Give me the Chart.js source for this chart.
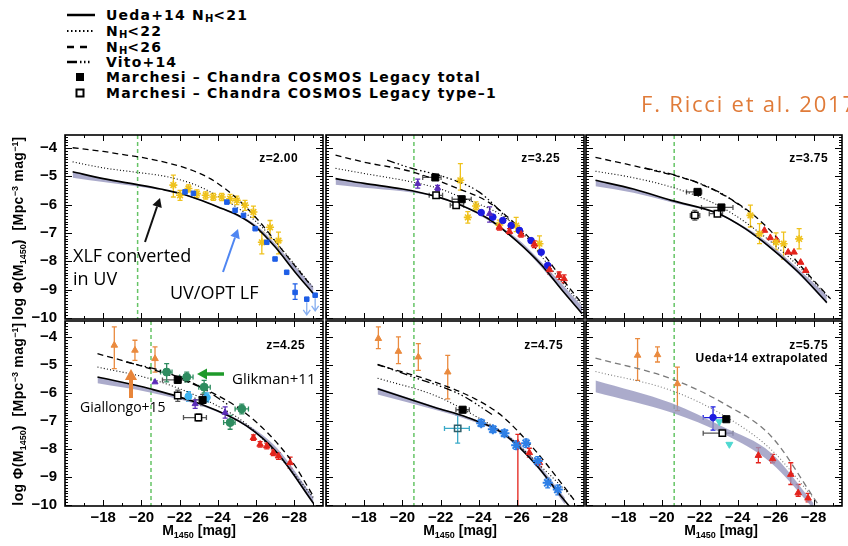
<!DOCTYPE html>
<html>
<head>
<meta charset="utf-8">
<script src="https://cdn.jsdelivr.net/npm/chart.js@4.4.1/dist/chart.umd.min.js"></script>
<style>
  html, body { margin: 0; padding: 0; background: #fff; }
  #wrap { position: relative; width: 848px; height: 546px; overflow: hidden; font-family: "Liberation Sans", Arial, sans-serif; }
  #wrap canvas { position: absolute; left: 0; top: 0; z-index: 1; }
  #wrap svg, #wrap .txt { z-index: 2; }
  .lg { position: absolute; left: 106px; font: bold 14px "DejaVu Sans", sans-serif; letter-spacing: 1.2px; white-space: nowrap; transform: translateY(-50%); }
  .lg sub { font-size: 10px; vertical-align: -2px; letter-spacing: 0; }
  .txt { position: absolute; white-space: nowrap; }
  .zl { font: bold 12px "Liberation Sans", Arial, sans-serif; letter-spacing: 0.4px; transform: translateY(-50%); }
  .ann { font-family: "Open Sans", sans-serif; transform: translateY(-50%); }
  .ytitle { left: 19px; font: bold 14px "Liberation Sans", Arial, sans-serif; letter-spacing: 0.4px; transform: translate(-50%, -50%) rotate(-90deg); }
  .xtitle { top: 531px; font: bold 14px "Liberation Sans", Arial, sans-serif; transform: translate(-50%, -50%); }
  .ytitle sub, .xtitle sub { font-size: 9px; vertical-align: -3px; letter-spacing: 0; }
  .ytitle sup { font-size: 9px; vertical-align: 5px; letter-spacing: 0; }
</style>
</head>
<body>
<div id="wrap">
  <svg id="lgmarks" width="110" height="105" style="position:absolute;left:0;top:0">
    <line x1="67" y1="15" x2="95" y2="15" stroke="#000" stroke-width="2.5"/>
    <line x1="67" y1="31" x2="95" y2="31" stroke="#000" stroke-width="2" stroke-dasharray="1.5 2.5"/>
    <line x1="67" y1="47" x2="88" y2="47" stroke="#000" stroke-width="2.5" stroke-dasharray="7 6"/>
    <line x1="67" y1="62" x2="95" y2="62" stroke="#000" stroke-width="2.5" stroke-dasharray="10 3 1.5 2.5 1.5 2.5 1.5 20"/>
    <rect x="76" y="73" width="8" height="8" fill="#000"/>
    <rect x="76.5" y="89.5" width="7" height="7" fill="none" stroke="#000" stroke-width="2"/>
  </svg>
  <div class="lg" style="top:15px">Ueda+14 N<sub>H</sub>&lt;21</div>
  <div class="lg" style="top:31px">N<sub>H</sub>&lt;22</div>
  <div class="lg" style="top:47px">N<sub>H</sub>&lt;26</div>
  <div class="lg" style="top:62px">Vito+14</div>
  <div class="lg" style="top:77px">Marchesi – Chandra COSMOS Legacy total</div>
  <div class="lg" style="top:93px">Marchesi – Chandra COSMOS Legacy type–1</div>
  <div class="txt ann" style="left:641px;top:103px;font-size:22px;letter-spacing:1.8px;color:#e07b39">F. Ricci et al. 2017</div>

  <div class="txt ytitle" style="top:228px">log Φ(M<sub>1450</sub>) &nbsp;[Mpc<sup>−3</sup> mag<sup>−1</sup>]</div>
  <div class="txt ytitle" style="top:414px">log Φ(M<sub>1450</sub>) &nbsp;[Mpc<sup>−3</sup> mag<sup>−1</sup>]</div>
  <div class="txt xtitle" style="left:199px">M<sub>1450</sub> [mag]</div>
  <div class="txt xtitle" style="left:460px">M<sub>1450</sub> [mag]</div>
  <div class="txt xtitle" style="left:721px">M<sub>1450</sub> [mag]</div>

  <div class="txt ann" style="left:73px;top:255px;font-size:18px">XLF converted</div>
  <div class="txt ann" style="left:73px;top:278px;font-size:18px">in UV</div>
  <div class="txt ann" style="left:170px;top:292px;font-size:18px">UV/OPT LF</div>
  <div class="txt ann" style="left:232px;top:378px;font-size:15px">Glikman+11</div>
  <div class="txt ann" style="left:80px;top:406px;font-size:14px">Giallongo+15</div>
  <svg id="arrows" width="848" height="546" style="position:absolute;left:0;top:0"></svg>
</div>
<script>
// axes
const X_RANGE = [-29.5, -16];
const Y_RANGE_TOP = [-10.04, -3.54];
const Y_RANGE_BOTTOM = [-10.05, -3.42];
const X_TICKS = [-18, -20, -22, -24, -26, -28];
const Y_TICKS = [-4, -5, -6, -7, -8, -9, -10];
const REDSHIFTS = ['z=2.00', 'z=3.25', 'z=3.75', 'z=4.25', 'z=4.75', 'z=5.75'];
const M_LIMIT = [-19.8, -20.6, -20.65, -20.5, -20.6, -20.65];

// z=2.00 model curves [M, log phi]
const P1_SOLID = [[-16.4,-4.84],[-18,-5.08],[-20,-5.32],[-21,-5.45],[-22,-5.6],[-23,-5.82],[-24,-6.08],[-25,-6.36],[-26,-6.8],[-27,-7.5],[-28,-8.35],[-29,-9.15]];
const P1_DOTTED = [[-16.4,-4.49],[-18,-4.7],[-20,-4.88],[-21,-4.97],[-22,-5.12],[-23,-5.35],[-24,-5.7],[-25,-6.1],[-26,-6.6],[-27,-7.3],[-28,-8.1],[-29,-8.95]];
const P1_DASHED = [[-16.4,-3.99],[-18,-4.12],[-19.2,-4.25],[-20,-4.33],[-21.5,-4.55],[-22.5,-4.75],[-23.6,-5.08],[-24.5,-5.5],[-25.2,-5.91],[-26.2,-6.62],[-27.6,-7.8],[-28.8,-8.8]];
const P1_BAND_M = [-16.4,-18,-20,-22,-24,-26,-27,-28,-29];
const P1_BAND_HI = [-4.84,-5.08,-5.32,-5.59,-6.05,-6.72,-7.38,-8.15,-8.9];
const P1_BAND_LO = [-5.05,-5.2,-5.38,-5.62,-6.1,-6.82,-7.52,-8.37,-9.17];

// z=3.25
const P2_SOLID = [[-16.5,-5.08],[-18,-5.25],[-20,-5.45],[-21.7,-5.7],[-23,-6.0],[-24.5,-6.5],[-26,-7.3],[-27.3,-8.15],[-28.3,-8.98],[-29.4,-9.85]];
const P2_DOTTED = [[-16.5,-4.72],[-18,-4.9],[-20.5,-5.2],[-22,-5.45],[-23,-5.72],[-25.2,-6.38],[-26.3,-7.0],[-27.3,-7.85],[-28.3,-8.7],[-29.4,-9.55]];
const P2_DASHED = [[-16.5,-4.25],[-18,-4.5],[-20.5,-4.84],[-22.9,-5.43],[-24.5,-5.91],[-26,-6.74],[-27.3,-7.68],[-28.3,-8.57],[-29.4,-9.5]];
const P2_VITO = [[-19.2,-4.43],[-20.5,-4.72],[-22,-4.98],[-24,-5.55],[-25.7,-6.62]];
const P2_BAND_M = [-16.5,-18,-20,-22,-24,-26,-28,-29.4];
const P2_BAND_HI = [-5.08,-5.25,-5.45,-5.74,-6.33,-7.2,-8.55,-9.6];
const P2_BAND_LO = [-5.3,-5.4,-5.53,-5.78,-6.36,-7.32,-8.77,-9.86];

// z=3.75
const P3_SOLID = [[-16.5,-5.14],[-18.5,-5.45],[-20.5,-5.85],[-23,-6.32],[-24.4,-6.85],[-25.8,-7.56],[-27.2,-8.39],[-28.7,-9.46]];
const P3_DOTTED = [[-16.5,-4.82],[-18.5,-5.05],[-20.5,-5.38],[-22.8,-5.97],[-24.4,-6.62],[-26.8,-7.92],[-28.9,-9.34]];
const P3_DASHED = [[-16.5,-4.33],[-19.1,-4.72],[-22,-5.26],[-24.4,-6.14],[-25.8,-6.97],[-27.3,-8.15],[-28.9,-9.33]];
const P3_VITO = [[-19.1,-4.7],[-21,-5.02],[-23,-5.55],[-24.6,-6.25]];
const P3_BAND_M = [-16.5,-18.5,-20.5,-23,-25,-27,-28.7];
const P3_BAND_HI = [-5.14,-5.45,-5.85,-6.32,-7.05,-8.15,-9.2];
const P3_BAND_LO = [-5.35,-5.58,-5.92,-6.36,-7.17,-8.32,-9.5];

// z=4.25
const P4_SOLID = [[-17.7,-5.43],[-20.45,-5.85],[-23.07,-6.39],[-25.5,-7.18],[-27.1,-8.14],[-29,-9.95]];
const P4_DOTTED = [[-17.7,-5.07],[-20.45,-5.49],[-23.07,-6.16],[-25.5,-7.12],[-27.8,-8.74],[-29,-9.75]];
const P4_DASHED = [[-17.7,-4.59],[-20.45,-5.13],[-23.07,-5.79],[-25.5,-6.75],[-27.8,-8.38],[-29,-9.7]];
const P4_VITO = [[-19.2,-4.89],[-21,-5.2],[-23,-5.75],[-24.6,-6.45]];
const P4_BAND_M = [-17.7,-20.45,-23.07,-25.5,-27.1,-29];
const P4_BAND_HI = [-5.43,-5.85,-6.39,-7.12,-7.98,-9.75];
const P4_BAND_LO = [-5.65,-5.98,-6.45,-7.22,-8.2,-10.0];

// z=4.75
const P5_SOLID = [[-18.7,-5.85],[-21.7,-6.52],[-23.4,-6.88],[-25.2,-7.42],[-26.9,-8.5],[-28.3,-9.7],[-28.9,-10.2]];
const P5_DOTTED = [[-18.7,-5.47],[-21.7,-6.09],[-23.8,-6.82],[-25.5,-7.54],[-27.6,-8.86],[-28.9,-9.75]];
const P5_DASHED = [[-18.7,-4.99],[-21.7,-5.61],[-23.8,-6.21],[-25.2,-6.82],[-26.9,-8.02],[-28.3,-9.22],[-29,-9.85]];
const P5_VITO = [[-18.7,-4.97],[-20.45,-5.4],[-23.07,-6.07],[-24.8,-6.82]];
const P5_BAND_M = [-18.7,-21.7,-23.4,-25.2,-26.9,-28.5];
const P5_BAND_HI = [-5.8,-6.48,-6.85,-7.35,-8.38,-9.75];
const P5_BAND_LO = [-6.05,-6.6,-6.95,-7.48,-8.55,-10.0];

// z=5.75 (extrapolated)
const P6_DOTTED = [[-16.5,-5.23],[-20.5,-5.91],[-23.3,-6.82],[-25.75,-8.02],[-28,-9.77]];
const P6_DASHED = [[-16.5,-4.75],[-20.5,-5.49],[-23.3,-6.39],[-25.75,-7.54],[-28.2,-9.95]];
const P6_BAND_M = [-16.5,-20.5,-23.3,-25.75,-28];
const P6_BAND_HI = [-5.55,-6.36,-7.24,-8.14,-9.95];
const P6_BAND_LO = [-5.97,-6.7,-7.48,-8.5,-10.15];

// data points [M, log phi, low, high, xLow, xHigh]
const P1_YELLOW = [[-21.67,-5.31,-5.73,-4.96],[-22.02,-5.67,-5.85,-5.5],[-22.46,-5.43,-5.55,-5.3],[-22.9,-5.61,-5.74,-5.48],[-23.36,-5.67,-5.8,-5.55],[-23.76,-5.73,-5.85,-5.6],[-24.2,-5.73,-5.86,-5.6],[-24.64,-5.79,-5.95,-5.64],[-24.99,-5.85,-6.0,-5.7],[-25.42,-6.02,-6.2,-5.85],[-25.86,-6.26,-6.45,-6.05],[-26.3,-7.33,-7.74,-6.97],[-26.73,-6.8,-7.2,-6.56],[-27.17,-7.27,-7.74,-6.97]];
const P1_BLUE = [[-22.28,-5.55],[-22.72,-5.6],[-24.47,-5.91],[-24.9,-6.2],[-25.34,-6.38],[-25.95,-6.85],[-26.56,-7.33],[-26.99,-7.92],[-27.6,-8.39],[-28.04,-9.1,-9.35,-8.8]];
const P1_BLUE_UL = [[-28.65,-9.34],[-29.09,-9.2]];

const P2_TOTAL = [[-21.72,-5.04,-5.12,-4.96,-21.06,-22.02],[-23.1,-5.81,-5.9,-5.7,-22.6,-23.6]];
const P2_TYPE1 = [[-21.76,-5.67,-5.75,-5.58,-21.4,-22.1],[-22.81,-6.02,-6.1,-5.94,-22.5,-23.2]];
const P2_PURPLE = [[-20.8,-5.26,-5.42,-5.1],[-21.84,-5.41,-5.5,-5.32],[-24.56,-6.32,-6.62,-6.08]];
const P2_YELLOW = [[-23.03,-5.14,-5.49,-4.55],[-23.85,-6.05,-6.18,-5.9],[-23.42,-6.45,-6.65,-6.25],[-25.07,-6.72,-6.85,-6.55],[-25.95,-6.74,-6.95,-6.45],[-27.17,-7.38,-7.62,-7.1]];
const P2_BLUE = [[-24.12,-6.28],[-24.73,-6.44],[-25.25,-6.56],[-25.69,-6.74],[-26.12,-6.91],[-26.73,-7.27],[-27.26,-7.68],[-27.6,-8.15]];
const P2_RED = [[-25.07,-6.8,-6.9,-6.7],[-25.6,-6.95,-7.05,-6.85],[-26.21,-7.05,-7.15,-6.95],[-26.9,-7.4,-7.52,-7.28],[-27.7,-8.3,-8.45,-8.15],[-28.2,-8.5,-8.65,-8.38],[-28.46,-8.62,-8.76,-8.48]];

const P3_TOTAL = [[-21.88,-5.55,-5.62,-5.48,-21.3,-22.1],[-23.14,-6.1,-6.18,-6.02,-22.09,-23.75]];
const P3_TYPE1 = [[-21.74,-6.38,-6.55,-6.2,-21.5,-22.0],[-22.93,-6.32,-6.4,-6.24,-22.5,-23.2]];
const P3_YELLOW = [[-24.67,-6.38,-6.79,-6.02],[-25.15,-7.03,-7.38,-6.67],[-26.02,-7.33,-7.6,-7.0],[-26.42,-7.38,-7.92,-6.97],[-27.24,-7.21,-7.56,-6.85]];
const P3_RED = [[-25.41,-6.91],[-25.72,-7.17],[-26.05,-7.25],[-26.66,-7.68],[-26.97,-7.68],[-27.32,-8.04],[-27.59,-8.33]];

const P4_ORANGE = [[-18.58,-4.29,-5.13,-3.63],[-19.66,-4.47,-4.83,-4.11],[-20.71,-4.77,-5.25,-4.35]];
const P4_GREEN = [[-21.32,-5.25,-5.6,-4.95,-21.0,-21.6],[-22.37,-5.43,-5.6,-5.25,-22.0,-22.7],[-23.28,-5.79,-6.0,-5.55,-23.0,-23.6],[-25.25,-6.57,-6.75,-6.4,-24.9,-25.6],[-24.64,-7.06,-7.3,-6.8,-24.3,-24.9]];
const P4_PURPLE = [[-20.71,-5.61],[-22.81,-6.39,-6.55,-6.25],[-24.38,-6.7,-6.9,-6.5]];
const P4_SKY = [[-22.46,-6.12,-6.3,-5.95],[-23.42,-6.16,-6.32,-6.0]];
const P4_TOTAL = [[-21.9,-5.53,-5.65,-5.4,-21.1,-22.3],[-23.2,-6.25,-6.45,-6.05,-22.8,-23.5]];
const P4_TYPE1 = [[-21.9,-6.09,-6.3,-5.9],[-22.98,-6.88,-7.0,-6.75,-22.2,-23.4]];
const P4_RED = [[-25.86,-7.6,-7.7,-7.5],[-26.21,-7.84,-7.94,-7.74],[-26.56,-7.9,-8.0,-7.8],[-26.9,-8.14,-8.24,-8.04],[-27.17,-8.26,-8.38,-8.14],[-27.78,-8.5,-8.7,-8.3]];

const P5_ORANGE = [[-18.74,-4.05,-4.41,-3.63],[-19.79,-4.51,-4.95,-3.99],[-20.83,-4.71,-5.19,-4.23],[-22.37,-5.25,-6.21,-4.65]];
const P5_TOTAL = [[-23.15,-6.6,-6.7,-6.5,-22.8,-23.5]];
const P5_TYPE1 = [[-22.89,-7.27,-7.8,-6.78,-22.2,-23.5]];
const P5_STARS = [[-24.12,-7.08,-7.2,-6.95],[-24.73,-7.3,-7.42,-7.18],[-25.34,-7.44,-7.56,-7.32],[-25.95,-7.87,-8.02,-7.72],[-26.47,-7.8,-7.95,-7.65],[-27.08,-8.44,-8.6,-8.28],[-27.6,-9.22,-9.4,-9.05],[-28.13,-9.46,-9.65,-9.3]];
const P5_RED = [[-26.04,-7.8,-11,-7.48],[-26.64,-8.14,-8.3,-7.98],[-27.17,-8.5,-8.65,-8.35]];

const P6_ORANGE = [[-18.72,-4.65,-5.55,-4.05],[-19.77,-4.63,-4.89,-4.35],[-20.82,-5.67,-6.63,-5.07]];
const P6_BLUE = [[-22.7,-6.88,-7.33,-6.5,-22.18,-23.31]];
const P6_TOTAL = [[-23.4,-6.94,-7.02,-6.86]];
const P6_TYPE1 = [[-23.19,-7.44,-7.55,-7.3,-22.18,-23.75]];
const P6_CYAN = [[-23.03,-7.03],[-23.56,-7.84]];
const P6_RED = [[-25.09,-8.24,-8.5,-7.96],[-25.84,-8.36,-8.5,-8.2],[-26.8,-8.92,-9.28,-8.5],[-27.19,-9.58,-9.7,-9.28],[-27.71,-9.77,-9.9,-9.6]];

// ---- styles ----
const BAND_COLOR = 'rgba(150,150,190,0.8)';
const MARK = {
  yellow: { color: '#efc21c', style: 'star', r: 4, bw: 1.6 },
  blue:   { color: '#1e5ee6', style: 'rect', r: 3.2 },
  blueUL: { color: '#1e5ee6', style: 'rect', r: 3.2, arrow: '#86aef0' },
  navy:   { color: '#1c1ce0', style: 'circle', r: 3.3 },
  red:    { color: '#e3231c', style: 'triangle', r: 3.8 },
  purple: { color: '#5a2cb8', style: 'triangle', r: 3.5 },
  orange: { color: '#ea8a3e', style: 'triangle', r: 3.8 },
  green:  { color: '#2e8c60', style: 'circle', r: 4 },
  sky:    { color: '#3cb4f2', style: 'circle', r: 3.5 },
  cyan:   { color: '#4fd8d0', style: 'triangle', r: 4, rot: 180 },
  star:   { color: '#2d7fe6', style: 'star', r: 5, bw: 2 },
  total:  { color: '#000', style: 'rect', r: 5, err: '#555' },
  type1:  { color: '#000', style: 'rect', r: 4.5, fill: '#fff', err: '#555', bw: 1.5 },
  type1c: { color: '#2f5f6a', style: 'rect', r: 4.5, fill: 'rgba(255,255,255,0)', err: '#3aaac8', bw: 1.5 }
};

const PANELS = [
  { solid: P1_SOLID, dotted: P1_DOTTED, dashed: P1_DASHED, vito: null, band: [P1_BAND_M, P1_BAND_HI, P1_BAND_LO],
    marks: [[P1_BLUE, 'blue'], [P1_BLUE_UL, 'blueUL'], [P1_YELLOW, 'yellow']] },
  { solid: P2_SOLID, dotted: P2_DOTTED, dashed: P2_DASHED, vito: P2_VITO, band: [P2_BAND_M, P2_BAND_HI, P2_BAND_LO],
    marks: [[P2_TOTAL, 'total'], [P2_TYPE1, 'type1'], [P2_PURPLE, 'purple'], [P2_RED, 'red'], [P2_BLUE, 'navy'], [P2_YELLOW, 'yellow']] },
  { solid: P3_SOLID, dotted: P3_DOTTED, dashed: P3_DASHED, vito: P3_VITO, band: [P3_BAND_M, P3_BAND_HI, P3_BAND_LO],
    marks: [[P3_TOTAL, 'total'], [P3_TYPE1, 'type1'], [P3_YELLOW, 'yellow'], [P3_RED, 'red']] },
  { solid: P4_SOLID, dotted: P4_DOTTED, dashed: P4_DASHED, vito: P4_VITO, band: [P4_BAND_M, P4_BAND_HI, P4_BAND_LO],
    marks: [[P4_TOTAL, 'total'], [P4_TYPE1, 'type1'], [P4_ORANGE, 'orange'], [P4_GREEN, 'green'], [P4_PURPLE, 'purple'], [P4_SKY, 'sky'], [P4_RED, 'red']] },
  { solid: P5_SOLID, dotted: P5_DOTTED, dashed: P5_DASHED, vito: P5_VITO, band: [P5_BAND_M, P5_BAND_HI, P5_BAND_LO],
    marks: [[P5_TOTAL, 'total'], [P5_TYPE1, 'type1c'], [P5_ORANGE, 'orange'], [P5_STARS, 'star'], [P5_RED, 'red']] },
  { solid: null, dotted: P6_DOTTED, dashed: P6_DASHED, vito: null, band: [P6_BAND_M, P6_BAND_HI, P6_BAND_LO], grey: true,
    marks: [[P6_TOTAL, 'total'], [P6_TYPE1, 'type1'], [P6_CYAN, 'cyan'], [P6_BLUE, 'navy'], [P6_ORANGE, 'orange'], [P6_RED, 'red']] }
];

// pixel boxes of the six plot areas
const COL_PX = [[65, 323], [326, 584], [586, 843]];
const ROW_PX = [[135, 319], [321, 506]];
const Z_POS = [[298, 158], [560, 158], [828, 158], [305, 345], [563, 345], [828, 345]];
const Y_AXIS_W = 60;
const X_AXIS_H = 32;

const wrap = document.getElementById('wrap');

function curve(data, dash, width, color) {
  return {
    type: 'line', data: data.map(([x, y]) => ({ x, y })),
    borderColor: color, borderWidth: width, borderDash: dash,
    pointRadius: 0, fill: false, cubicInterpolationMode: 'monotone', order: 5
  };
}

function bandSets(band) {
  const [m, hi, lo] = band;
  return [
    { type: 'line', data: m.map((x, i) => ({ x, y: hi[i] })), borderWidth: 0, borderColor: BAND_COLOR,
      pointRadius: 0, fill: '+1', backgroundColor: BAND_COLOR, cubicInterpolationMode: 'monotone', order: 9 },
    { type: 'line', data: m.map((x, i) => ({ x, y: lo[i] })), borderWidth: 0, borderColor: BAND_COLOR,
      pointRadius: 0, fill: false, cubicInterpolationMode: 'monotone', order: 9 }
  ];
}

function markSet(arr, key) {
  const m = MARK[key];
  return {
    type: 'scatter',
    data: arr.map(([x, y, lo, hi, xl, xh]) => ({ x, y, lo, hi, xl, xh })),
    pointStyle: m.style, pointRadius: m.r, pointRotation: m.rot || 0,
    backgroundColor: m.fill || m.color, borderColor: m.color, pointBorderWidth: m.bw || 1,
    errColor: m.err || m.color, ulColor: m.arrow, order: 1
  };
}

// error bars and upper-limit arrows, placed through the scales
const errorBars = {
  id: 'errorBars',
  beforeDatasetsDraw(chart) {
    const { ctx, chartArea: a, scales: { x, y } } = chart;
    ctx.save();
    ctx.beginPath(); ctx.rect(a.left, a.top, a.width, a.height); ctx.clip();
    ctx.lineWidth = 1.3;
    chart.data.datasets.forEach(ds => {
      if (!ds.errColor) return;
      ds.data.forEach(p => {
        const px = x.getPixelForValue(p.x), py = y.getPixelForValue(p.y);
        ctx.strokeStyle = ds.errColor;
        ctx.beginPath();
        if (p.lo != null) {
          const y1 = y.getPixelForValue(p.lo), y2 = y.getPixelForValue(p.hi);
          ctx.moveTo(px, y1); ctx.lineTo(px, y2);
          ctx.moveTo(px - 2.5, y1); ctx.lineTo(px + 2.5, y1);
          ctx.moveTo(px - 2.5, y2); ctx.lineTo(px + 2.5, y2);
        }
        if (p.xl != null) {
          const x1 = x.getPixelForValue(p.xl), x2 = x.getPixelForValue(p.xh);
          ctx.moveTo(x1, py); ctx.lineTo(x2, py);
          ctx.moveTo(x1, py - 2.5); ctx.lineTo(x1, py + 2.5);
          ctx.moveTo(x2, py - 2.5); ctx.lineTo(x2, py + 2.5);
        }
        ctx.stroke();
        if (ds.ulColor) {
          const y2 = y.getPixelForValue(p.y - 0.55);
          ctx.strokeStyle = ds.ulColor;
          ctx.beginPath();
          ctx.moveTo(px, py + 3); ctx.lineTo(px, y2);
          ctx.moveTo(px - 3.5, y2 - 5); ctx.lineTo(px, y2); ctx.lineTo(px + 3.5, y2 - 5);
          ctx.stroke();
        }
      });
    });
    ctx.restore();
  }
};

// green dashed magnitude limit
const limitLine = {
  id: 'limitLine',
  beforeDatasetsDraw(chart, args, opts) {
    const { ctx, chartArea: a, scales: { x } } = chart;
    const px = x.getPixelForValue(opts.value);
    ctx.save();
    ctx.strokeStyle = '#66c466'; ctx.lineWidth = 1.5; ctx.setLineDash([4, 3]);
    ctx.beginPath(); ctx.moveTo(px, a.top); ctx.lineTo(px, a.bottom); ctx.stroke();
    ctx.restore();
  }
};

// IDL-style frame with inward ticks on every side
const frame = {
  id: 'frame',
  afterDraw(chart) {
    const { ctx, chartArea: a, scales: { x, y } } = chart;
    ctx.save();
    ctx.strokeStyle = '#000'; ctx.lineWidth = 1;
    ctx.beginPath();
    for (let v = -29; v <= -16; v++) {
      const px = Math.round(x.getPixelForValue(v)) + 0.5;
      const len = v % 2 === 0 ? 6 : 3;
      ctx.moveTo(px, a.bottom); ctx.lineTo(px, a.bottom - len);
      ctx.moveTo(px, a.top); ctx.lineTo(px, a.top + len);
    }
    for (let k = -100; k <= -35; k++) {
      const py = Math.round(y.getPixelForValue(k / 10)) + 0.5;
      if (py < a.top || py > a.bottom) continue;
      const len = k % 10 === 0 ? 7 : 3;
      ctx.moveTo(a.left, py); ctx.lineTo(a.left + len, py);
      ctx.moveTo(a.right, py); ctx.lineTo(a.right - len, py);
    }
    ctx.stroke();
    ctx.lineWidth = 1.6;
    ctx.strokeRect(a.left, a.top, a.width, a.height);
    ctx.restore();
  }
};

const TICK_FONT = { family: '"Liberation Sans", Arial, sans-serif', size: 15, weight: 'bold' };
const minus = v => '\u2212' + Math.abs(v);

PANELS.forEach((p, i) => {
  const col = i % 3, row = Math.floor(i / 3);
  const [l, r] = COL_PX[col], [t, b] = ROW_PX[row];
  const yr = row === 0 ? Y_RANGE_TOP : Y_RANGE_BOTTOM;
  const lineColor = p.grey ? '#7a7a7a' : '#000';
  const yw = col === 0 ? Y_AXIS_W : 0;
  const xh = row === 1 ? X_AXIS_H : 0;

  const cv = document.createElement('canvas');
  cv.width = 848; cv.height = 546;
  cv.style.width = '848px'; cv.style.height = '546px';
  wrap.insertBefore(cv, wrap.firstChild);

  const datasets = [];
  p.marks.forEach(([arr, key]) => datasets.push(markSet(arr, key)));
  if (p.solid) datasets.push(curve(p.solid, [], 1.6, lineColor));
  datasets.push(curve(p.dotted, [1, 2.2], 1.1, lineColor));
  datasets.push(curve(p.dashed, [6, 4], 1.3, lineColor));
  if (p.vito) datasets.push(curve(p.vito, [8, 3, 1.5, 2.5, 1.5, 2.5, 1.5, 3], 1.3, '#000'));
  datasets.push(...bandSets(p.band));

  new Chart(cv, {
    type: 'scatter',
    data: { datasets },
    options: {
      responsive: false, animation: false, events: [],
      layout: { padding: { left: l - yw, top: t, right: 848 - r, bottom: 546 - b - xh } },
      plugins: { legend: { display: false }, tooltip: { enabled: false }, limitLine: { value: M_LIMIT[i] } },
      scales: {
        x: {
          type: 'linear', reverse: true, min: X_RANGE[0], max: X_RANGE[1],
          afterBuildTicks: s => { s.ticks = X_TICKS.map(v => ({ value: v })); },
          afterFit: s => { s.height = xh; },
          grid: { display: false, drawTicks: false }, border: { display: false },
          ticks: { display: row === 1, padding: 3, color: '#000', font: TICK_FONT, maxRotation: 0, autoSkip: false, callback: minus }
        },
        y: {
          type: 'linear', min: yr[0], max: yr[1],
          afterBuildTicks: s => { s.ticks = Y_TICKS.map(v => ({ value: v })); },
          afterFit: s => { s.width = yw; },
          grid: { display: false, drawTicks: false }, border: { display: false },
          ticks: { display: col === 0, padding: 8, color: '#000', font: TICK_FONT, autoSkip: false, callback: minus }
        }
      }
    },
    plugins: [limitLine, errorBars, frame]
  });

  const zl = document.createElement('div');
  zl.className = 'txt zl';
  zl.style.right = (848 - Z_POS[i][0]) + 'px';
  zl.style.top = Z_POS[i][1] + 'px';
  zl.textContent = REDSHIFTS[i];
  wrap.appendChild(zl);
});

const extra = document.createElement('div');
extra.className = 'txt zl';
extra.style.right = '20px'; extra.style.top = '358px';
extra.textContent = 'Ueda+14 extrapolated';
wrap.appendChild(extra);

// annotation arrows
const svg = document.getElementById('arrows');
const NS = 'http://www.w3.org/2000/svg';
function arrow(x1, y1, x2, y2, color, w, head) {
  const L = Math.hypot(x2 - x1, y2 - y1), ux = (x2 - x1) / L, uy = (y2 - y1) / L;
  const bx = x2 - ux * head, by = y2 - uy * head, hw = head * 0.55;
  const ln = document.createElementNS(NS, 'line');
  ln.setAttribute('x1', x1); ln.setAttribute('y1', y1); ln.setAttribute('x2', bx); ln.setAttribute('y2', by);
  ln.setAttribute('stroke', color); ln.setAttribute('stroke-width', w);
  svg.appendChild(ln);
  const pg = document.createElementNS(NS, 'polygon');
  pg.setAttribute('points', `${x2},${y2} ${bx - uy * hw},${by + ux * hw} ${bx + uy * hw},${by - ux * hw}`);
  pg.setAttribute('fill', color);
  svg.appendChild(pg);
}
arrow(145, 242, 160, 198, '#111', 2, 9);
arrow(223, 272, 238, 229, '#4f86f2', 2, 9);
arrow(224, 374, 197, 374, '#1e9a2a', 3.5, 10);
arrow(131, 398, 131, 369, '#e8853a', 4, 11);
</script>
</body>
</html>
